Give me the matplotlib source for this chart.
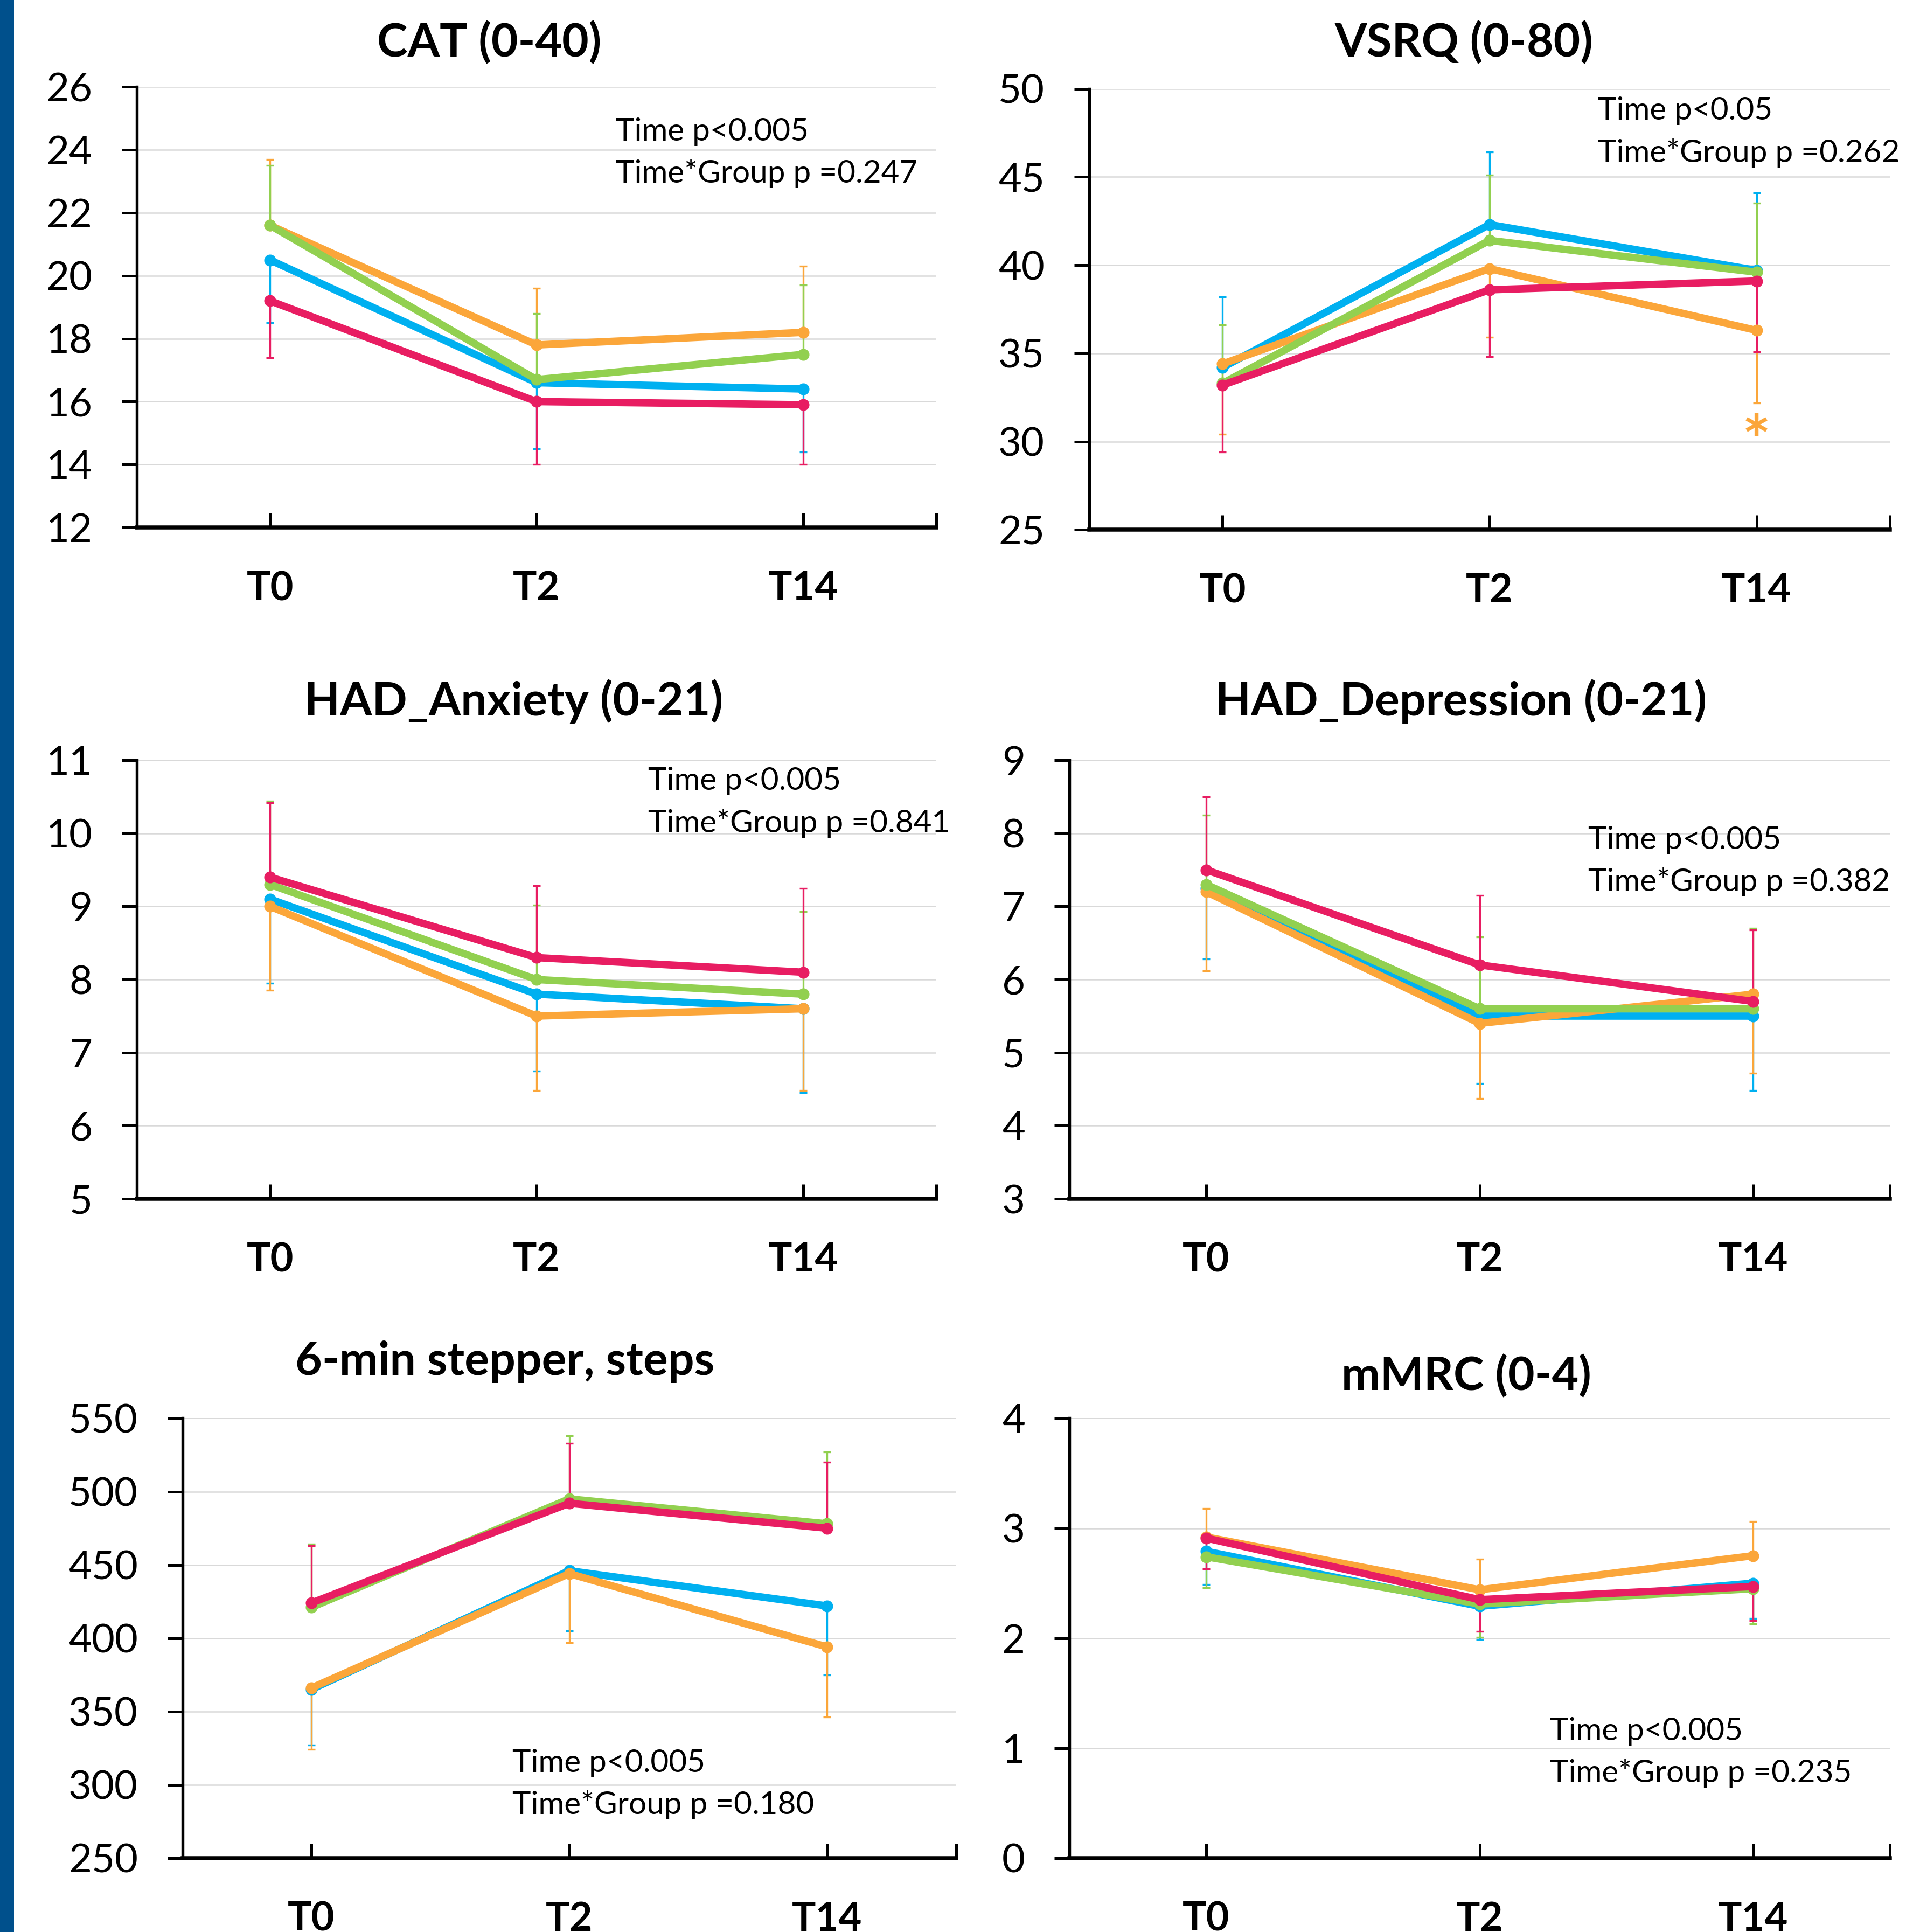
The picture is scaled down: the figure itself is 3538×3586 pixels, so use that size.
import matplotlib
matplotlib.use("Agg")
import matplotlib.pyplot as plt
from matplotlib.patches import Rectangle
from matplotlib.ticker import FixedLocator

plt.rcParams['font.family'] = ['Lato', 'DejaVu Sans']

# ---------------- data ----------------
timepoints = ["T0", "T2", "T14"]
series_names = ["blue", "orange", "green", "red"]
colors = {"blue": "#00B0F0", "orange": "#FBA63A", "green": "#92D050", "red": "#E81D62"}

# CAT (0-40)
cat_blue = [20.5, 16.6, 16.4]
cat_orange = [21.6, 17.8, 18.2]
cat_green = [21.6, 16.7, 17.5]
cat_red = [19.2, 16.0, 15.9]
cat_blue_end = [18.5, 14.5, 14.4]
cat_orange_end = [23.7, 19.6, 20.3]
cat_green_end = [23.5, 18.8, 19.7]
cat_red_end = [17.4, 14.0, 14.0]

# VSRQ (0-80)
vsrq_blue = [34.2, 42.3, 39.7]
vsrq_orange = [34.4, 39.8, 36.3]
vsrq_green = [33.3, 41.4, 39.6]
vsrq_red = [33.2, 38.6, 39.1]
vsrq_blue_end = [38.2, 46.4, 44.1]
vsrq_orange_end = [30.4, 35.9, 32.2]
vsrq_green_end = [36.6, 45.1, 43.5]
vsrq_red_end = [29.4, 34.8, 35.1]
vsrq_star_y = 30.6

# HAD_Anxiety (0-21)
anx_blue = [9.1, 7.8, 7.6]
anx_orange = [9.0, 7.5, 7.6]
anx_green = [9.3, 8.0, 7.8]
anx_red = [9.4, 8.3, 8.1]
anx_blue_end = [7.95, 6.75, 6.45]
anx_orange_end = [7.85, 6.48, 6.48]
anx_green_end = [10.44, 9.02, 8.93]
anx_red_end = [10.42, 9.28, 9.25]

# HAD_Depression (0-21)
dep_blue = [7.25, 5.5, 5.5]
dep_orange = [7.2, 5.4, 5.8]
dep_green = [7.3, 5.6, 5.6]
dep_red = [7.5, 6.2, 5.7]
dep_blue_end = [6.28, 4.58, 4.48]
dep_orange_end = [6.12, 4.37, 4.72]
dep_green_end = [8.25, 6.58, 6.70]
dep_red_end = [8.50, 7.15, 6.68]

# 6-min stepper, steps
step_blue = [365, 446, 422]
step_orange = [366, 444, 394]
step_green = [421, 495, 478]
step_red = [424, 492, 475]
step_blue_end = [327, 405, 375]
step_orange_end = [324, 397, 346]
step_green_end = [464, 538, 527]
step_red_end = [463, 533, 520]

# mMRC (0-4)
mmrc_blue = [2.79, 2.29, 2.50]
mmrc_orange = [2.92, 2.44, 2.75]
mmrc_green = [2.74, 2.31, 2.45]
mmrc_red = [2.91, 2.35, 2.47]
mmrc_blue_end = [2.49, 1.99, 2.18]
mmrc_orange_end = [3.18, 2.72, 3.06]
mmrc_green_end = [2.46, 2.01, 2.13]
mmrc_red_end = [2.63, 2.06, 2.16]

panels = [
    dict(title="CAT (0-40)", ylim=(12, 26), yticks=[12, 14, 16, 18, 20, 22, 24, 26],
         means=[cat_blue, cat_orange, cat_green, cat_red],
         ends=[cat_blue_end, cat_orange_end, cat_green_end, cat_red_end],
         stats=["Time p<0.005", "Time*Group p =0.247"]),
    dict(title="VSRQ (0-80)", ylim=(25, 50), yticks=[25, 30, 35, 40, 45, 50],
         means=[vsrq_blue, vsrq_orange, vsrq_green, vsrq_red],
         ends=[vsrq_blue_end, vsrq_orange_end, vsrq_green_end, vsrq_red_end],
         stats=["Time p<0.05", "Time*Group p =0.262"]),
    dict(title="HAD_Anxiety (0-21)", ylim=(5, 11), yticks=[5, 6, 7, 8, 9, 10, 11],
         means=[anx_blue, anx_orange, anx_green, anx_red],
         ends=[anx_blue_end, anx_orange_end, anx_green_end, anx_red_end],
         stats=["Time p<0.005", "Time*Group p =0.841"]),
    dict(title="HAD_Depression (0-21)", ylim=(3, 9), yticks=[3, 4, 5, 6, 7, 8, 9],
         means=[dep_blue, dep_orange, dep_green, dep_red],
         ends=[dep_blue_end, dep_orange_end, dep_green_end, dep_red_end],
         stats=["Time p<0.005", "Time*Group p =0.382"]),
    dict(title="6-min stepper, steps", ylim=(250, 550), yticks=[250, 300, 350, 400, 450, 500, 550],
         means=[step_blue, step_orange, step_green, step_red],
         ends=[step_blue_end, step_orange_end, step_green_end, step_red_end],
         stats=["Time p<0.005", "Time*Group p =0.180"]),
    dict(title="mMRC (0-4)", ylim=(0, 4), yticks=[0, 1, 2, 3, 4],
         means=[mmrc_blue, mmrc_orange, mmrc_green, mmrc_red],
         ends=[mmrc_blue_end, mmrc_orange_end, mmrc_green_end, mmrc_red_end],
         stats=["Time p<0.005", "Time*Group p =0.235"]),
]

# ---------------- layout ----------------
axes_rects = [
    [0.0718, 0.7270, 0.4195, 0.2280],
    [0.5714, 0.7258, 0.4202, 0.2283],
    [0.0718, 0.3795, 0.4195, 0.2270],
    [0.5611, 0.3795, 0.4305, 0.2270],
    [0.0957, 0.0383, 0.4059, 0.2276],
    [0.5611, 0.0383, 0.4305, 0.2276],
]
title_pos = [(0.2566, 0.9777), (0.7680, 0.9777), (0.2696, 0.6371),
             (0.7666, 0.6371), (0.2650, 0.2953), (0.7692, 0.2876)]
stats_pos = [(0.3232, 0.9318, 0.9101), (0.8384, 0.9426, 0.9209),
             (0.3400, 0.5957, 0.5740), (0.8332, 0.5651, 0.5434),
             (0.2689, 0.0874, 0.0657), (0.8132, 0.1040, 0.0823)]

fig = plt.figure(figsize=(3538 / 300, 3586 / 300), dpi=300)
fig.patches.append(Rectangle((0, 0), 26 / 3538, 1, transform=fig.transFigure,
                             facecolor="#00508C", edgecolor="none", zorder=0))

xpos = [0.5, 1.5, 2.5]

for i, p in enumerate(panels):
    ax = fig.add_axes(axes_rects[i])
    ax.set_xlim(0, 3)
    ax.set_ylim(*p["ylim"])
    for j, name in enumerate(series_names):
        m = p["means"][j]
        e = p["ends"][j]
        lower = [max(mv - ev, 0) for mv, ev in zip(m, e)]
        upper = [max(ev - mv, 0) for mv, ev in zip(m, e)]
        ax.errorbar(xpos, m, yerr=[lower, upper], fmt="none", ecolor=colors[name],
                    elinewidth=0.8, capsize=1.6, capthick=0.8, zorder=2 + j * 0.1)
    for j, name in enumerate(series_names):
        ax.plot(xpos, p["means"][j], color=colors[name], lw=3.3, marker="o", ms=4.3,
                solid_capstyle="round", solid_joinstyle="round", zorder=4 + j)
    ax.set_yticks(p["yticks"])
    ax.set_xticks(xpos)
    ax.set_xticklabels(timepoints, fontsize=17.8, fontweight="bold")
    ax.xaxis.set_minor_locator(FixedLocator([3.0]))
    ax.tick_params(axis="x", which="both", direction="in", length=6.5, width=1.2, pad=19)
    ax.tick_params(axis="y", direction="out", length=6.8, width=1.2, pad=13, labelsize=17.8)
    ax.grid(axis="y", color="#D9D9D9", lw=0.6, zorder=0)
    ax.set_axisbelow(True)
    for s in ["top", "right"]:
        ax.spines[s].set_visible(False)
    ax.spines["left"].set_linewidth(1.3)
    ax.spines["bottom"].set_linewidth(1.8)
    ax.spines["bottom"].set_zorder(10)
    tx, ty = title_pos[i]
    fig.text(tx, ty, p["title"], ha="center", va="center", fontsize=20.6, fontweight="bold")
    sx, sy1, sy2 = stats_pos[i]
    fig.text(sx, sy1, p["stats"][0], ha="left", va="center", fontsize=14)
    fig.text(sx, sy2, p["stats"][1], ha="left", va="center", fontsize=14)
    if i == 1:
        ax.annotate("*", xy=(2.5, vsrq_star_y), xytext=(0, -6), textcoords="offset points",
                    color=colors["orange"], ha="center", va="center",
                    fontsize=30, fontweight="bold", zorder=12)

fig.savefig("out.png", dpi=300)
